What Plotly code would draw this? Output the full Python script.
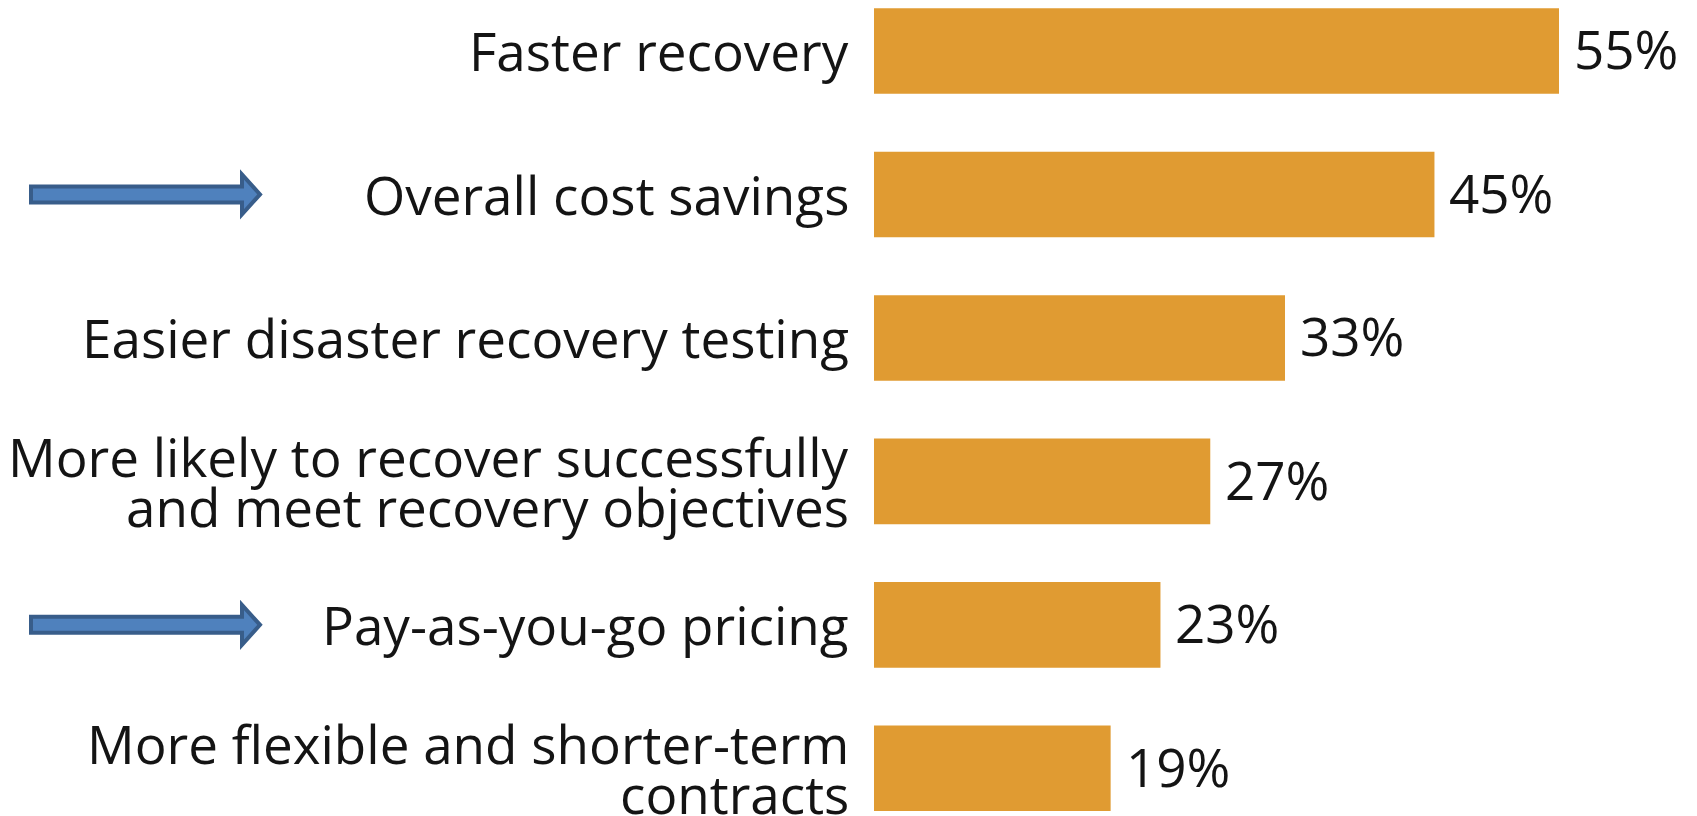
import plotly.graph_objects as go

categories = [
    "Faster recovery",
    "Overall cost savings",
    "Easier disaster recovery testing",
    "More likely to recover successfully<br>and meet recovery objectives",
    "Pay-as-you-go pricing",
    "More flexible and shorter-term<br>contracts",
]
values = [55, 45, 33, 27, 23, 19]
value_labels = ["55%", "45%", "33%", "27%", "23%", "19%"]
highlighted = ["Overall cost savings", "Pay-as-you-go pricing"]

BAR_COLOR = "#E09B32"
TEXT_COLOR = "#141414"
FONT = "Open Sans"
FSIZE = 53

fig = go.Figure()
fig.add_trace(go.Bar(
    x=values, y=categories, orientation="h",
    marker=dict(color=BAR_COLOR, line=dict(width=0)),
    hoverinfo="skip",
))

annotations = []
# category labels (tight line spacing)
for i, cat in enumerate(categories):
    lines = cat.split("<br>")
    n = len(lines)
    for j, line in enumerate(lines):
        annotations.append(dict(
            x=0, xref="paper", y=cat, yref="y",
            xanchor="right", yanchor="middle", xshift=-23,
            yshift=((n - 1) / 2 - j) * 50,
            text=line, showarrow=False,
            font=dict(family=FONT, size=FSIZE, color=TEXT_COLOR),
        ))
# value labels
for cat, v, lab in zip(categories, values, value_labels):
    annotations.append(dict(
        x=v, xref="x", y=cat, yref="y",
        xanchor="left", yanchor="middle", xshift=13, yshift=2,
        text=lab, showarrow=False,
        font=dict(family=FONT, size=FSIZE, color=TEXT_COLOR),
    ))

shapes = []
arrow_path = "M -843,-8 L -632,-8 L -632,-20 L -614,0 L -632,20 L -632,8 L -843,8 Z"
for h in highlighted:
    idx = categories.index(h)
    shapes.append(dict(
        type="path", path=arrow_path,
        xref="paper", xsizemode="pixel", xanchor=0,
        yref="y", ysizemode="pixel", yanchor=idx,
        fillcolor="#4F81BD", line=dict(color="#385D8A", width=4),
        layer="above",
    ))

fig.update_layout(
    width=1689, height=808,
    margin=dict(l=866, r=0, t=0, b=0),
    paper_bgcolor="white", plot_bgcolor="white",
    showlegend=False, bargap=0.404,
    xaxis=dict(range=[0, 66.08], visible=False, fixedrange=True),
    yaxis=dict(type="category", categoryorder="array", categoryarray=categories,
               range=[5.332, -0.299], showticklabels=False, showgrid=False,
               zeroline=False, showline=False, ticks=""),
    annotations=annotations, shapes=shapes,
)

fig.write_html("out.html")
